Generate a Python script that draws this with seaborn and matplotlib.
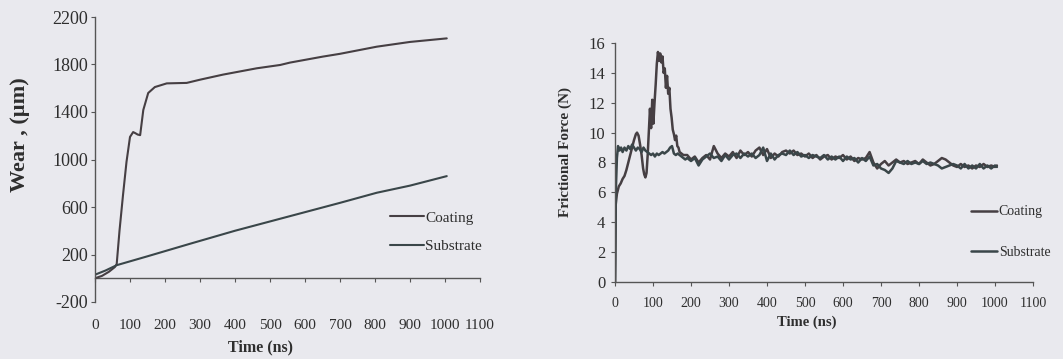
import matplotlib
matplotlib.use("Agg")
import matplotlib.pyplot as plt
import seaborn as sns
import numpy as np
import pandas as pd

# ---------------- data ----------------
series_names = ["Coating", "Substrate"]

# Left chart: Wear (um) vs Time (ns)
coat_wear_t = [0, 20, 40, 57, 62, 70, 80, 90, 100, 109, 115, 122, 129, 138, 152, 171, 205,
               262, 300, 366, 462, 529, 557, 650, 700, 805, 900, 1005]
coat_wear = [0, 20, 55, 95, 120, 400, 700, 980, 1190, 1231, 1222, 1210, 1205, 1417, 1560, 1610,
             1641, 1645, 1672, 1715, 1768, 1796, 1816, 1866, 1890, 1950, 1990, 2020]
sub_wear_t = [0, 30, 62, 150, 271, 400, 557, 700, 805, 900, 1005]
sub_wear = [30, 65, 110, 185, 290, 400, 523, 635, 720, 780, 860]

# Right chart: Frictional force (N) vs Time (ns)
coat_f_t = [0, 2, 5, 10, 15, 20, 25, 30, 35, 40, 45, 50, 55, 58, 62, 66, 70, 74, 77, 80, 83, 86,
            89, 92, 95, 98, 101, 104, 107, 110, 113, 116, 119, 122, 125, 128, 131, 134, 137, 140,
            143, 146, 149, 152, 155, 158, 161, 164, 167, 170, 175, 180,
            190, 200, 210, 220, 230, 240, 250, 260, 270, 280, 290, 300, 310, 320, 330, 340, 350,
            360, 370, 380, 390, 400, 410, 420, 430, 440, 450, 460, 470, 480, 490, 500, 510, 520,
            530, 540, 550, 560, 570, 580, 590, 600, 610, 620, 630, 640, 650, 660, 670, 680, 690,
            700, 710, 720, 730, 740, 750, 760, 770, 780, 790, 800, 810, 820, 830, 840, 850, 860,
            870, 880, 890, 900, 910, 920, 930, 940, 950, 960, 970, 980, 990, 1000, 1005]
coat_f = [0, 5.2, 5.9, 6.4, 6.6, 6.9, 7.1, 7.5, 8.0, 8.5, 9.0, 9.5, 9.9, 10.0, 9.8, 9.2, 8.5,
          7.6, 7.2, 7.0, 7.3, 8.5, 10.0, 11.6, 10.3, 12.2, 10.6, 12.0, 13.2, 14.6, 15.4, 14.8,
          15.3, 14.7, 15.1, 14.0, 14.3, 13.0, 13.8, 12.6, 13.0, 11.6, 11.0, 10.2, 9.9, 9.5, 9.8,
          9.1, 9.0, 8.7, 8.6, 8.5,
          8.5, 8.2, 8.4, 8.0, 8.3, 8.5, 8.2, 9.1, 8.6, 8.3, 8.6, 8.4, 8.7, 8.3, 8.8, 8.5, 8.7,
          8.4, 8.8, 9.0, 8.5, 8.9, 8.3, 8.6, 8.4, 8.7, 8.8, 8.6, 8.8, 8.5, 8.6, 8.4, 8.6, 8.3,
          8.5, 8.2, 8.4, 8.5, 8.2, 8.4, 8.3, 8.5, 8.2, 8.4, 8.1, 8.3, 8.2, 8.3, 8.7, 8.0, 7.6,
          7.9, 8.1, 7.8, 8.0, 8.2, 8.0, 8.1, 7.9, 8.0, 8.1, 7.9, 8.2, 8.0, 7.8, 7.9, 8.1, 8.3,
          8.2, 8.0, 7.8, 7.7, 7.9, 7.7, 7.8, 7.6, 7.8, 7.7, 7.9, 7.7, 7.8, 7.7, 7.8]
sub_f_t = [0, 2, 5, 8, 12, 16, 20, 25, 30, 35, 40, 45, 50, 55, 60, 65, 70, 75, 80, 85, 90, 95,
           100, 105, 110, 115, 120, 125, 130, 135, 140, 145, 150, 155, 160, 165, 170, 175, 180,
           185,
           190, 200, 210, 220, 230, 240, 250, 260, 270, 280, 290, 300, 310, 320, 330, 340, 350,
           360, 370, 380, 390, 400, 410, 420, 430, 440, 450, 460, 470, 480, 490, 500, 510, 520,
           530, 540, 550, 560, 570, 580, 590, 600, 610, 620, 630, 640, 650, 660, 670, 680, 690,
           700, 710, 720, 730, 740, 750, 760, 770, 780, 790, 800, 810, 820, 830, 840, 850, 860,
           870, 880, 890, 900, 910, 920, 930, 940, 950, 960, 970, 980, 990, 1000, 1005]
sub_f = [0, 6.0, 8.3, 9.1, 8.8, 9.0, 8.7, 9.0, 8.8, 9.1, 8.9, 9.2, 9.0, 8.8, 9.0, 8.9, 8.7,
         9.0, 8.8, 8.7, 8.6, 8.5, 8.6, 8.4, 8.6, 8.5, 8.6, 8.7, 8.6, 8.7, 8.8, 9.0, 9.1, 8.6,
         8.5, 8.6, 8.5, 8.4, 8.3, 8.2,
         8.3, 8.1, 8.3, 7.8, 8.2, 8.4, 8.6, 8.3, 8.4, 8.1, 8.5, 8.2, 8.5, 8.6, 8.3, 8.6, 8.4,
         8.6, 8.3, 8.5, 9.0, 8.1, 8.6, 8.2, 8.5, 8.6, 8.5, 8.8, 8.5, 8.7, 8.4, 8.5, 8.3, 8.5,
         8.4, 8.3, 8.5, 8.2, 8.4, 8.2, 8.4, 8.1, 8.4, 8.2, 8.3, 8.0, 8.3, 8.1, 8.4, 7.8, 7.9,
         7.6, 7.5, 7.3, 7.6, 8.1, 8.0, 7.9, 8.1, 7.9, 8.0, 7.9, 8.1, 7.9, 8.0, 7.9, 7.8, 7.6,
         7.7, 7.8, 7.9, 7.8, 7.6, 7.9, 7.6, 7.8, 7.6, 7.9, 7.6, 7.8, 7.6, 7.8, 7.7]

left_xticks = list(range(0, 1101, 100))
left_yticks = [-200, 200, 600, 1000, 1400, 1800, 2200]
right_xticks = list(range(0, 1101, 100))
right_yticks = list(range(0, 17, 2))

# ---------------- style ----------------
sns.set_theme(style="white")
plt.rcParams["font.family"] = ["Liberation Serif", "DejaVu Serif"]
plt.rcParams["axes.unicode_minus"] = False
bg = "#e9e9ee"
txt = "#2e2e2e"
axc = "#555555"
col_coat = "#463f43"
col_sub = "#3a4649"

fig = plt.figure(figsize=(10.63, 3.59), dpi=100, facecolor=bg)

# ---------------- left chart ----------------
axL = fig.add_axes([95 / 1063, 1 - 302 / 359, 385 / 1063, 285 / 359])
axL.set_facecolor(bg)
sns.lineplot(x=coat_wear_t, y=coat_wear, ax=axL, color=col_coat, lw=1.5,
             label=series_names[0], estimator=None, sort=False)
sns.lineplot(x=sub_wear_t, y=sub_wear, ax=axL, color=col_sub, lw=1.5,
             label=series_names[1], estimator=None, sort=False)
axL.set_xlim(0, 1100)
axL.set_ylim(-200, 2200)
axL.set_xticks(left_xticks)
axL.set_yticks(left_yticks)
for s in ["top", "right", "bottom"]:
    axL.spines[s].set_visible(False)
axL.spines["left"].set_color(axc)
axL.spines["left"].set_linewidth(1.0)
axL.tick_params(axis="x", length=0, pad=12, labelsize=11, colors=txt)
axL.tick_params(axis="y", length=3, width=0.8, color=axc, pad=2, labelsize=13,
                labelcolor=txt, direction="out", left=True)
# x axis line drawn at y = 0
zero_pos = (0 - (-200)) / 2400
sec = axL.secondary_xaxis(zero_pos)
sec.set_xticks(left_xticks)
sec.tick_params(axis="x", length=3, width=0.8, color=axc, labelbottom=False,
                direction="out", bottom=True)
sec.set_xticklabels([])
sec.spines["bottom"].set_color(axc)
sec.spines["bottom"].set_linewidth(1.0)
axL.set_xlabel("Time (ns)", fontsize=11.5, fontweight="bold", color=txt)
axL.set_ylabel("Wear , (µm)", fontsize=16, fontweight="bold", color=txt)
axL.xaxis.set_label_coords((260 - 95) / 385, (302 - 347) / 285)
axL.xaxis.label.set_va("center")
axL.yaxis.set_label_coords((20 - 95) / 385, (302 - 135) / 285)
axL.yaxis.label.set_va("center")
axL.legend(loc="center left", bbox_to_anchor=(390 / 1063, 1 - 232 / 359),
           bbox_transform=fig.transFigure, frameon=False, fontsize=11,
           handlelength=2.2, handletextpad=0.1, labelspacing=0.95,
           borderpad=0, borderaxespad=0, labelcolor=txt)

# ---------------- right chart ----------------
axR = fig.add_axes([615 / 1063, 1 - 282 / 359, 418 / 1063, 239 / 359])
axR.set_facecolor(bg)
sns.lineplot(x=coat_f_t, y=coat_f, ax=axR, color=col_coat, lw=1.8,
             label=series_names[0], estimator=None, sort=False)
sns.lineplot(x=sub_f_t, y=sub_f, ax=axR, color=col_sub, lw=1.8,
             label=series_names[1], estimator=None, sort=False)
axR.set_xlim(0, 1100)
axR.set_ylim(0, 16)
axR.set_xticks(right_xticks)
axR.set_yticks(right_yticks)
for s in ["top", "right"]:
    axR.spines[s].set_visible(False)
for s in ["left", "bottom"]:
    axR.spines[s].set_color(axc)
    axR.spines[s].set_linewidth(1.0)
axR.tick_params(axis="x", length=3, width=0.8, color=axc, pad=8, labelsize=10,
                labelcolor=txt, direction="out", bottom=True)
axR.tick_params(axis="y", length=3, width=0.8, color=axc, pad=4, labelsize=12,
                labelcolor=txt, direction="out", left=True)
axR.set_xlabel("Time (ns)", fontsize=10.5, fontweight="bold", color=txt)
axR.set_ylabel("Frictional Force (N)", fontsize=11, fontweight="bold", color=txt)
axR.xaxis.set_label_coords((807 - 615) / 418, (282 - 322) / 239)
axR.xaxis.label.set_va("center")
axR.yaxis.set_label_coords((565 - 615) / 418, (282 - 152) / 239)
axR.yaxis.label.set_va("center")
axR.legend(loc="center left", bbox_to_anchor=(971 / 1063, 1 - 232 / 359),
           bbox_transform=fig.transFigure, frameon=False, fontsize=10,
           handlelength=1.9, handletextpad=0.1, labelspacing=1.95,
           borderpad=0, borderaxespad=0, labelcolor=txt)

fig.savefig("out.png", dpi=100, facecolor=bg)
